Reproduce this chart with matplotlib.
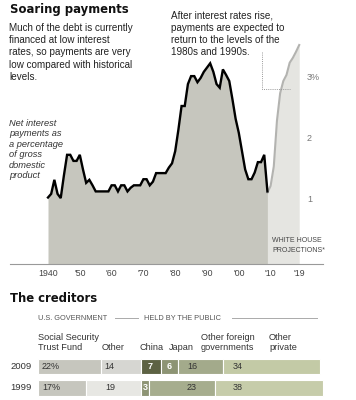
import matplotlib
matplotlib.use("Agg")
import matplotlib.pyplot as plt
import numpy as np

# ---------------- data ----------------
years_actual = list(range(1940, 2010))
interest_actual = [1.09, 1.15, 1.38, 1.15, 1.08, 1.45, 1.79, 1.79, 1.69, 1.69,
                   1.79, 1.55, 1.33, 1.38, 1.29, 1.19, 1.19, 1.19, 1.19, 1.19,
                   1.29, 1.29, 1.19, 1.29, 1.29, 1.19, 1.25, 1.29, 1.29, 1.29,
                   1.39, 1.39, 1.29, 1.35, 1.49, 1.49, 1.49, 1.49, 1.58, 1.65,
                   1.85, 2.20, 2.59, 2.59, 2.95, 3.08, 3.08, 2.98, 3.05, 3.15,
                   3.22, 3.29, 3.15, 2.95, 2.89, 3.19, 3.10, 3.00, 2.70, 2.38,
                   2.15, 1.85, 1.55, 1.39, 1.39, 1.50, 1.67, 1.67, 1.79, 1.19]
years_proj = list(range(2009, 2020))
interest_proj = [1.17, 1.28, 1.60, 2.35, 2.80, 3.00, 3.10, 3.30, 3.38, 3.48, 3.59]

xtick_years = [1940, 1950, 1960, 1970, 1980, 1990, 2000, 2010, 2019]
xtick_labels = ["1940", "'50", "'60", "'70", "'80", "'90", "'00", "'10", "'19"]
ytick_values = [1, 2, 3]
ytick_labels = ["1", "2", "3%"]

creditor_categories = ["Social Security\nTrust Fund", "Other", "China", "Japan",
                       "Other foreign\ngovernments", "Other\nprivate"]
row_years = ["2009", "1999"]
shares_2009 = [22, 14, 7, 6, 16, 34]
# 1999: Japan not broken out (combined into the 23 segment)
shares_1999 = [17, 19, 3, 23, 38]
labels_2009 = ["22%", "14", "7", "6", "16", "34"]
labels_1999 = ["17%", "19", "3", "23", "38"]

# ---------------- figure ----------------
W, H = 356, 400
fig = plt.figure(figsize=(W / 100, H / 100), dpi=100)
FONT = "Liberation Sans"
plt.rcParams['font.family'] = [FONT, 'DejaVu Sans']

def px(x, y):
    return x / W, 1 - y / H

def ftext(x, y, s, **kw):
    kw.setdefault("va", "center")
    kw.setdefault("ha", "left")
    fig.text(*px(x, y), s, **kw)

# top chart axes (full figure, data coords tuned to pixel layout)
ax = fig.add_axes([0, 0, 1, 1])
ax.patch.set_alpha(0)
ppy = 3.18          # pixels per year
x0px = 48           # pixel of 1940
ppv = 61            # pixels per percentage point
y0px = 264          # pixel of 0
ax.set_xlim(1940 - x0px / ppy, 1940 + (W - x0px) / ppy)
ax.set_ylim(-(H - y0px) / ppv, y0px / ppv)
ax.axis("off")

def xp(p):
    return 1940 + (p - x0px) / ppy

def yp(p):
    return (y0px - p) / ppv

ax.fill_between(years_proj, 0, interest_proj, color="#e5e5e1", lw=0, zorder=1)
ax.plot(years_proj, interest_proj, color="#b3b3b0", lw=1.5, zorder=3,
        solid_joinstyle="round")
ax.fill_between(years_actual, 0, interest_actual, color="#c6c6be", lw=0, zorder=2)
ax.plot(years_actual, interest_actual, color="black", lw=1.7, zorder=4,
        solid_joinstyle="miter")

ax.plot([xp(10), xp(323)], [0, 0], color="#999999", lw=0.8, zorder=5)
for yr, lab in zip(xtick_years, xtick_labels):
    ax.text(yr, yp(273), lab, ha="center", va="center", fontsize=6.3, color="#444444")
for v, lab in zip(ytick_values, ytick_labels):
    ax.text(xp(307), v + 0.05, lab, ha="left", va="center", fontsize=6.5, color="#777777")

# dotted callout
ax.plot([xp(261.7), xp(261.7), xp(290)], [yp(52), yp(89), yp(89)],
        color="#999999", lw=0.7, ls=(0, (1, 1.2)), zorder=5)

# texts
ftext(10, 9, "Soaring payments", fontsize=8.4, fontweight="bold", color="#111111",
      family=["DejaVu Sans"])
for i, line in enumerate(["Much of the debt is currently", "financed at low interest",
                          "rates, so payments are very", "low compared with historical",
                          "levels."]):
    ftext(9, 28 + 12.2 * i, line, fontsize=7.1, color="#222222")
for i, line in enumerate(["After interest rates rise,", "payments are expected to",
                          "return to the levels of the", "1980s and 1990s."]):
    ftext(171, 16 + 12 * i, line, fontsize=7.1, color="#222222")
for i, line in enumerate(["Net interest", "payments as", "a percentage", "of gross",
                          "domestic", "product"]):
    ftext(9, 123 + 10.6 * i, line, fontsize=6.7, color="#333333", style="italic")
ftext(272, 241, "WHITE HOUSE", fontsize=5.0, color="#444444")
ftext(272, 250, "PROJECTIONS*", fontsize=5.0, color="#444444")

# ---------------- creditors ----------------
ftext(10, 298, "The creditors", fontsize=8.4, fontweight="bold", color="#111111",
      family=["DejaVu Sans"])
ftext(38, 318, "U.S. GOVERNMENT", fontsize=5.3, color="#555555")
ftext(144, 318, "HELD BY THE PUBLIC", fontsize=5.3, color="#555555")
fig.add_artist(plt.Line2D([115 / W, 138 / W], [1 - 318 / H] * 2, color="#aaaaaa", lw=0.7))
fig.add_artist(plt.Line2D([232 / W, 317 / W], [1 - 318 / H] * 2, color="#aaaaaa", lw=0.7))

header_x = [38, 102, 140, 169, 201, 269]
for hx, cat in zip(header_x, creditor_categories):
    lines = cat.split("\n")
    if len(lines) == 1:
        lines = ["", lines[0]]
    for j, ln in enumerate(lines):
        if ln:
            ftext(hx, 337 + 11 * j, ln, fontsize=6.6, color="#333333")

bx = fig.add_axes([0, 0, 1, 1])
bx.patch.set_alpha(0)
bpx0, bppv = 38, 2.85
bx.set_xlim(-bpx0 / bppv, (W - bpx0) / bppv)
bx.set_ylim(H, 0)
bx.axis("off")

row_y = [366.5, 388]
row_h = 15.5
colors_2009 = ["#c6c6be", "#d6d6d2", "#5d6243", "#8d9474", "#a3aa8b", "#c3caa6"]
colors_1999 = ["#c6c6be", "#e7e7e3", "#8d9474", "#a6ad8e", "#c6ccaa"]
label_col_x = [1.4, 23.3, None, None, 52.3, 68.4]
label_col_x_1999 = [1.4, 23.6, None, 52.3, 68.4]
white_idx_2009 = {2, 3}
white_idx_1999 = {2}

for ry, vals, cols, labs, lx, whites in [
        (row_y[0], shares_2009, colors_2009, labels_2009, label_col_x, white_idx_2009),
        (row_y[1], shares_1999, colors_1999, labels_1999, label_col_x_1999, white_idx_1999)]:
    left = 0
    for i, (v, c, lab) in enumerate(zip(vals, cols, labs)):
        bx.barh(ry, v, left=left, height=row_h, color=c, edgecolor="white", lw=0.8)
        if i in whites:
            bx.text(left + v / 2, ry, lab, ha="center", va="center", fontsize=6.5,
                    color="white", fontweight="bold")
        else:
            bx.text(lx[i], ry, lab, ha="left", va="center", fontsize=6.5, color="#333333")
        left += v

for ry, yl in zip(row_y, row_years):
    ftext(10, ry, yl, fontsize=6.8, color="#333333")

fig.savefig("out.png", dpi=100)
